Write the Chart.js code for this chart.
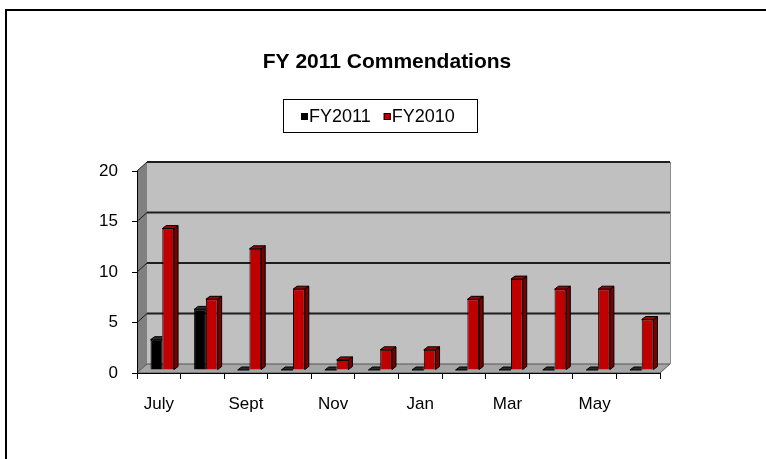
<!DOCTYPE html>
<html>
<head>
<meta charset="utf-8">
<script src="https://cdn.jsdelivr.net/npm/chart.js@4.4.1/dist/chart.umd.min.js"></script>
<style>
  html, body { margin: 0; padding: 0; background: #fff; }
  #wrap { width: 766px; height: 459px; }
</style>
</head>
<body>
<div id="wrap"><canvas id="commendationsChart" width="766" height="459"></canvas></div>
<script>
const chartTitle = 'FY 2011 Commendations';
const months = ['July', 'Aug', 'Sept', 'Oct', 'Nov', 'Dec', 'Jan', 'Feb', 'Mar', 'Apr', 'May', 'June'];
const fy2011 = [3, 6, 0, 0, 0, 0, 0, 0, 0, 0, 0, 0];
const fy2010 = [14, 7, 12, 8, 1, 2, 2, 7, 9, 8, 8, 5];
const yTicks = [0, 5, 10, 15, 20];

const FONT = "'Liberation Sans', Arial, sans-serif";
const WALL = { dx: 10, dy: -9 };   // depth of the back wall
const BAR = { dx: 4, dy: -3 };     // depth of a single bar
const SHIFT = { dx: 3.5, dy: -3 }; // bars sit a little behind the front plane

const faceColors = [
    { front: '#000000', side: '#111111', top: '#2a2a2a' },
    { front: '#c00000', side: '#7a0000', top: '#a00000' }
];

// gray walls, floor, back gridlines, frame, title and legend
const threeD = {
    id: 'threeD',
    beforeDraw(chart) {
        const { ctx, chartArea: a, scales: { y } } = chart;
        ctx.save();
        ctx.fillStyle = '#fff';
        ctx.fillRect(0, 0, chart.width, chart.height);

        // side wall
        ctx.fillStyle = '#808080';
        ctx.beginPath();
        ctx.moveTo(a.left, a.top);
        ctx.lineTo(a.left + WALL.dx, a.top + WALL.dy);
        ctx.lineTo(a.left + WALL.dx, a.bottom + WALL.dy);
        ctx.lineTo(a.left, a.bottom);
        ctx.closePath();
        ctx.fill();

        // back wall
        ctx.fillStyle = '#c0c0c0';
        ctx.fillRect(a.left + WALL.dx, a.top + WALL.dy, a.right - a.left, a.bottom - a.top);
        ctx.strokeStyle = '#8c8c8c';
        ctx.lineWidth = 1;
        ctx.beginPath();
        ctx.moveTo(a.right + WALL.dx + 0.5, a.top + WALL.dy);
        ctx.lineTo(a.right + WALL.dx + 0.5, a.bottom + WALL.dy);
        ctx.stroke();

        // gridlines on back and side wall
        ctx.strokeStyle = '#1e1e1e';
        yTicks.forEach(v => {
            if (v === 0) return;
            const py = y.getPixelForValue(v);
            ctx.lineWidth = 2;
            ctx.beginPath();
            ctx.moveTo(a.left + WALL.dx, py + WALL.dy);
            ctx.lineTo(a.right + WALL.dx, py + WALL.dy);
            ctx.stroke();
            ctx.lineWidth = 1;
            ctx.beginPath();
            ctx.moveTo(a.left, py);
            ctx.lineTo(a.left + WALL.dx, py + WALL.dy);
            ctx.stroke();
        });

        // floor
        ctx.fillStyle = '#a6a6a6';
        ctx.strokeStyle = '#555';
        ctx.lineWidth = 1;
        ctx.beginPath();
        ctx.moveTo(a.left, a.bottom);
        ctx.lineTo(a.left + WALL.dx, a.bottom + WALL.dy);
        ctx.lineTo(a.right + WALL.dx, a.bottom + WALL.dy);
        ctx.lineTo(a.right, a.bottom);
        ctx.closePath();
        ctx.fill();
        ctx.stroke();

        // frame
        ctx.strokeStyle = '#000';
        ctx.lineWidth = 2;
        ctx.beginPath();
        ctx.moveTo(6, chart.height);
        ctx.lineTo(6, 10);
        ctx.lineTo(chart.width, 10);
        ctx.stroke();

        // title
        ctx.fillStyle = '#000';
        ctx.font = 'bold 21px ' + FONT;
        ctx.textAlign = 'center';
        ctx.textBaseline = 'middle';
        ctx.fillText(chartTitle, 387, 62);

        // legend
        ctx.strokeStyle = '#000';
        ctx.lineWidth = 1;
        ctx.strokeRect(283.5, 99.5, 194, 33);
        ctx.font = '18px ' + FONT;
        ctx.textAlign = 'left';
        let lx = 301;
        chart.data.datasets.forEach((ds, i) => {
            ctx.fillStyle = faceColors[i].front;
            ctx.fillRect(lx, 113, 7, 7);
            ctx.strokeStyle = '#000';
            ctx.strokeRect(lx + 0.5, 113.5, 6, 6);
            ctx.fillStyle = '#000';
            ctx.fillText(ds.label, lx + 8, 117);
            lx += 8 + ctx.measureText(ds.label).width + 13;
        });
        ctx.restore();
    },
    beforeDatasetsDraw(chart) {
        chart.ctx.save();
        chart.ctx.translate(SHIFT.dx, SHIFT.dy);
    },
    afterDatasetDraw(chart, args) {
        const { ctx } = chart;
        const c = faceColors[args.index];
        // dataset 0 is drawn last; its faces must stay behind the bar next to it
        const hidden = args.index === 0;
        args.meta.data.forEach(bar => {
            const { x, y, base, width } = bar.getProps(['x', 'y', 'base', 'width'], true);
            const l = x - width / 2, r = x + width / 2;
            ctx.save();
            if (hidden) {
                ctx.beginPath();
                ctx.rect(l - 2, 0, width + 2, chart.height);
                ctx.clip();
            }
            ctx.lineWidth = 1;
            ctx.strokeStyle = '#000';
            if (base - y > 0 && !hidden) {
                ctx.fillStyle = c.side;
                ctx.beginPath();
                ctx.moveTo(r, y);
                ctx.lineTo(r + BAR.dx, y + BAR.dy);
                ctx.lineTo(r + BAR.dx, base + BAR.dy);
                ctx.lineTo(r, base);
                ctx.closePath();
                ctx.fill();
                ctx.stroke();
            }
            ctx.fillStyle = c.top;
            ctx.beginPath();
            ctx.moveTo(l, y);
            ctx.lineTo(l + BAR.dx, y + BAR.dy);
            ctx.lineTo(r + BAR.dx, y + BAR.dy);
            ctx.lineTo(r, y);
            ctx.closePath();
            ctx.fill();
            ctx.stroke();
            ctx.restore();
        });
    },
    afterDatasetsDraw(chart) {
        chart.ctx.restore();
    }
};

new Chart(document.getElementById('commendationsChart'), {
    type: 'bar',
    data: {
        labels: months,
        datasets: [
            { label: 'FY2011', data: fy2011, backgroundColor: faceColors[0].front, borderColor: '#000', borderWidth: 1 },
            { label: 'FY2010', data: fy2010, backgroundColor: faceColors[1].front, borderColor: '#000', borderWidth: 1 }
        ]
    },
    options: {
        responsive: false,
        animation: false,
        layout: { padding: { left: 87, top: 171, right: 106, bottom: 46 } },
        datasets: { bar: { categoryPercentage: 0.54, barPercentage: 1 } },
        plugins: {
            legend: { display: false },
            title: { display: false },
            tooltip: { enabled: false }
        },
        scales: {
            x: {
                offset: true,
                afterFit(scale) { scale.height = 40; },
                grid: { offset: true, drawOnChartArea: false, tickLength: 6, color: '#000' },
                border: { display: true, color: '#000', width: 1 },
                ticks: {
                    autoSkip: false,
                    maxRotation: 0,
                    padding: 15,
                    color: '#000',
                    font: { family: FONT, size: 17 },
                    callback: (v, i) => (i % 2 === 0 ? months[i] : '')
                }
            },
            y: {
                min: 0,
                max: 20,
                afterFit(scale) { scale.width = 50; },
                grid: { drawOnChartArea: false, tickLength: 5, color: '#000' },
                border: { display: true, color: '#000', width: 1 },
                ticks: {
                    stepSize: 5,
                    padding: 14,
                    color: '#000',
                    font: { family: FONT, size: 17 }
                }
            }
        }
    },
    plugins: [threeD]
});
</script>
</body>
</html>
